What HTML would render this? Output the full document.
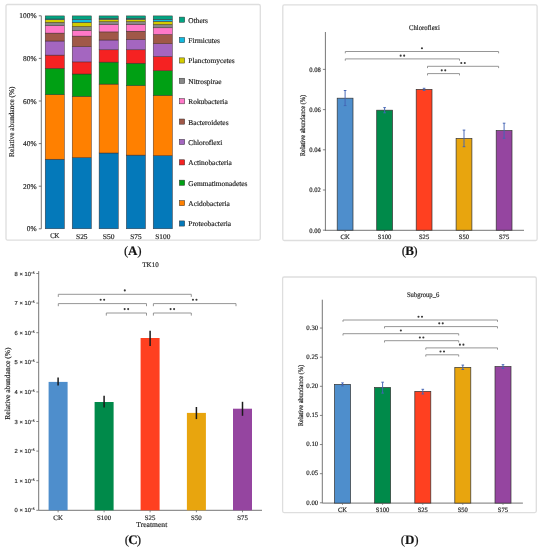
<!DOCTYPE html>
<html><head><meta charset="utf-8"><title>Figure</title>
<style>html,body{margin:0;padding:0;background:#fff;}svg{display:block;will-change:transform;}text{text-rendering:geometricPrecision;stroke:#2a2a2a;stroke-width:0.18px;}</style>
</head><body>
<svg width="542" height="550" viewBox="0 0 542 550" font-family='"Liberation Serif", serif'>
<rect width="542" height="550" fill="#fff"/>
<rect x="6.0" y="4.5" width="254.3" height="235.6" rx="1.5" fill="none" stroke="#dedede" stroke-width="1.3"/>
<line x1="41.3" y1="15.8" x2="41.3" y2="228.8" stroke="#666" stroke-width="0.9"/>
<line x1="38.8" y1="228.8" x2="41.3" y2="228.8" stroke="#666" stroke-width="0.9"/>
<text x="36.6" y="231.4" font-size="7.4" text-anchor="end" font-family='"Liberation Serif", serif' fill="#222" >0%</text>
<line x1="38.8" y1="186.20000000000002" x2="41.3" y2="186.20000000000002" stroke="#666" stroke-width="0.9"/>
<text x="36.6" y="188.8" font-size="7.4" text-anchor="end" font-family='"Liberation Serif", serif' fill="#222" >20%</text>
<line x1="38.8" y1="143.60000000000002" x2="41.3" y2="143.60000000000002" stroke="#666" stroke-width="0.9"/>
<text x="36.6" y="146.20000000000002" font-size="7.4" text-anchor="end" font-family='"Liberation Serif", serif' fill="#222" >40%</text>
<line x1="38.8" y1="101.00000000000001" x2="41.3" y2="101.00000000000001" stroke="#666" stroke-width="0.9"/>
<text x="36.6" y="103.60000000000001" font-size="7.4" text-anchor="end" font-family='"Liberation Serif", serif' fill="#222" >60%</text>
<line x1="38.8" y1="58.400000000000006" x2="41.3" y2="58.400000000000006" stroke="#666" stroke-width="0.9"/>
<text x="36.6" y="61.00000000000001" font-size="7.4" text-anchor="end" font-family='"Liberation Serif", serif' fill="#222" >80%</text>
<line x1="38.8" y1="15.800000000000011" x2="41.3" y2="15.800000000000011" stroke="#666" stroke-width="0.9"/>
<text x="36.6" y="18.400000000000013" font-size="7.4" text-anchor="end" font-family='"Liberation Serif", serif' fill="#222" >100%</text>
<rect x="45.20" y="159.20" width="19.20" height="69.60" fill="#0479ba" stroke="#3a2a2a" stroke-width="0.45"/>
<rect x="45.20" y="94.70" width="19.20" height="64.50" fill="#ff8000" stroke="#3a2a2a" stroke-width="0.45"/>
<rect x="45.20" y="68.30" width="19.20" height="26.40" fill="#00a014" stroke="#3a2a2a" stroke-width="0.45"/>
<rect x="45.20" y="55.10" width="19.20" height="13.20" fill="#f52222" stroke="#3a2a2a" stroke-width="0.45"/>
<rect x="45.20" y="41.00" width="19.20" height="14.10" fill="#a466c0" stroke="#3a2a2a" stroke-width="0.45"/>
<rect x="45.20" y="33.10" width="19.20" height="7.90" fill="#a05848" stroke="#3a2a2a" stroke-width="0.45"/>
<rect x="45.20" y="25.70" width="19.20" height="7.40" fill="#ff78c8" stroke="#3a2a2a" stroke-width="0.45"/>
<rect x="45.20" y="22.40" width="19.20" height="3.30" fill="#888888" stroke="#3a2a2a" stroke-width="0.45"/>
<rect x="45.20" y="19.60" width="19.20" height="2.80" fill="#d4cc00" stroke="#3a2a2a" stroke-width="0.45"/>
<rect x="45.20" y="19.00" width="19.20" height="0.60" fill="#12b9de" stroke="#3a2a2a" stroke-width="0.45"/>
<rect x="45.20" y="15.90" width="19.20" height="3.10" fill="#02a483" stroke="#3a2a2a" stroke-width="0.45"/>
<text x="54.800000000000004" y="237.9" font-size="7.2" text-anchor="middle" font-family='"Liberation Serif", serif' fill="#222" textLength="9.3" lengthAdjust="spacingAndGlyphs">CK</text>
<rect x="72.20" y="157.60" width="19.20" height="71.20" fill="#0479ba" stroke="#3a2a2a" stroke-width="0.45"/>
<rect x="72.20" y="96.50" width="19.20" height="61.10" fill="#ff8000" stroke="#3a2a2a" stroke-width="0.45"/>
<rect x="72.20" y="74.00" width="19.20" height="22.50" fill="#00a014" stroke="#3a2a2a" stroke-width="0.45"/>
<rect x="72.20" y="61.90" width="19.20" height="12.10" fill="#f52222" stroke="#3a2a2a" stroke-width="0.45"/>
<rect x="72.20" y="46.70" width="19.20" height="15.20" fill="#a466c0" stroke="#3a2a2a" stroke-width="0.45"/>
<rect x="72.20" y="36.10" width="19.20" height="10.60" fill="#a05848" stroke="#3a2a2a" stroke-width="0.45"/>
<rect x="72.20" y="30.50" width="19.20" height="5.60" fill="#ff78c8" stroke="#3a2a2a" stroke-width="0.45"/>
<rect x="72.20" y="26.50" width="19.20" height="4.00" fill="#888888" stroke="#3a2a2a" stroke-width="0.45"/>
<rect x="72.20" y="22.40" width="19.20" height="4.10" fill="#d4cc00" stroke="#3a2a2a" stroke-width="0.45"/>
<rect x="72.20" y="19.50" width="19.20" height="2.90" fill="#12b9de" stroke="#3a2a2a" stroke-width="0.45"/>
<rect x="72.20" y="15.90" width="19.20" height="3.60" fill="#02a483" stroke="#3a2a2a" stroke-width="0.45"/>
<text x="81.8" y="238.7" font-size="7.2" text-anchor="middle" font-family='"Liberation Serif", serif' fill="#222" textLength="11.6" lengthAdjust="spacingAndGlyphs">S25</text>
<rect x="99.10" y="153.00" width="19.20" height="75.80" fill="#0479ba" stroke="#3a2a2a" stroke-width="0.45"/>
<rect x="99.10" y="84.10" width="19.20" height="68.90" fill="#ff8000" stroke="#3a2a2a" stroke-width="0.45"/>
<rect x="99.10" y="62.10" width="19.20" height="22.00" fill="#00a014" stroke="#3a2a2a" stroke-width="0.45"/>
<rect x="99.10" y="49.80" width="19.20" height="12.30" fill="#f52222" stroke="#3a2a2a" stroke-width="0.45"/>
<rect x="99.10" y="40.00" width="19.20" height="9.80" fill="#a466c0" stroke="#3a2a2a" stroke-width="0.45"/>
<rect x="99.10" y="31.90" width="19.20" height="8.10" fill="#a05848" stroke="#3a2a2a" stroke-width="0.45"/>
<rect x="99.10" y="24.50" width="19.20" height="7.40" fill="#ff78c8" stroke="#3a2a2a" stroke-width="0.45"/>
<rect x="99.10" y="21.70" width="19.20" height="2.80" fill="#888888" stroke="#3a2a2a" stroke-width="0.45"/>
<rect x="99.10" y="19.30" width="19.20" height="2.40" fill="#d4cc00" stroke="#3a2a2a" stroke-width="0.45"/>
<rect x="99.10" y="18.30" width="19.20" height="1.00" fill="#12b9de" stroke="#3a2a2a" stroke-width="0.45"/>
<rect x="99.10" y="15.90" width="19.20" height="2.40" fill="#02a483" stroke="#3a2a2a" stroke-width="0.45"/>
<text x="108.69999999999999" y="238.7" font-size="7.2" text-anchor="middle" font-family='"Liberation Serif", serif' fill="#222" textLength="11.8" lengthAdjust="spacingAndGlyphs">S50</text>
<rect x="126.30" y="155.10" width="19.20" height="73.70" fill="#0479ba" stroke="#3a2a2a" stroke-width="0.45"/>
<rect x="126.30" y="85.60" width="19.20" height="69.50" fill="#ff8000" stroke="#3a2a2a" stroke-width="0.45"/>
<rect x="126.30" y="63.20" width="19.20" height="22.40" fill="#00a014" stroke="#3a2a2a" stroke-width="0.45"/>
<rect x="126.30" y="49.80" width="19.20" height="13.40" fill="#f52222" stroke="#3a2a2a" stroke-width="0.45"/>
<rect x="126.30" y="39.40" width="19.20" height="10.40" fill="#a466c0" stroke="#3a2a2a" stroke-width="0.45"/>
<rect x="126.30" y="31.20" width="19.20" height="8.20" fill="#a05848" stroke="#3a2a2a" stroke-width="0.45"/>
<rect x="126.30" y="24.30" width="19.20" height="6.90" fill="#ff78c8" stroke="#3a2a2a" stroke-width="0.45"/>
<rect x="126.30" y="21.60" width="19.20" height="2.70" fill="#888888" stroke="#3a2a2a" stroke-width="0.45"/>
<rect x="126.30" y="19.30" width="19.20" height="2.30" fill="#d4cc00" stroke="#3a2a2a" stroke-width="0.45"/>
<rect x="126.30" y="18.30" width="19.20" height="1.00" fill="#12b9de" stroke="#3a2a2a" stroke-width="0.45"/>
<rect x="126.30" y="15.90" width="19.20" height="2.40" fill="#02a483" stroke="#3a2a2a" stroke-width="0.45"/>
<text x="135.9" y="238.7" font-size="7.2" text-anchor="middle" font-family='"Liberation Serif", serif' fill="#222" textLength="11.3" lengthAdjust="spacingAndGlyphs">S75</text>
<rect x="153.20" y="155.60" width="19.20" height="73.20" fill="#0479ba" stroke="#3a2a2a" stroke-width="0.45"/>
<rect x="153.20" y="95.50" width="19.20" height="60.10" fill="#ff8000" stroke="#3a2a2a" stroke-width="0.45"/>
<rect x="153.20" y="70.70" width="19.20" height="24.80" fill="#00a014" stroke="#3a2a2a" stroke-width="0.45"/>
<rect x="153.20" y="56.50" width="19.20" height="14.20" fill="#f52222" stroke="#3a2a2a" stroke-width="0.45"/>
<rect x="153.20" y="43.70" width="19.20" height="12.80" fill="#a466c0" stroke="#3a2a2a" stroke-width="0.45"/>
<rect x="153.20" y="34.50" width="19.20" height="9.20" fill="#a05848" stroke="#3a2a2a" stroke-width="0.45"/>
<rect x="153.20" y="27.80" width="19.20" height="6.70" fill="#ff78c8" stroke="#3a2a2a" stroke-width="0.45"/>
<rect x="153.20" y="24.50" width="19.20" height="3.30" fill="#888888" stroke="#3a2a2a" stroke-width="0.45"/>
<rect x="153.20" y="21.40" width="19.20" height="3.10" fill="#d4cc00" stroke="#3a2a2a" stroke-width="0.45"/>
<rect x="153.20" y="19.30" width="19.20" height="2.10" fill="#12b9de" stroke="#3a2a2a" stroke-width="0.45"/>
<rect x="153.20" y="15.90" width="19.20" height="3.40" fill="#02a483" stroke="#3a2a2a" stroke-width="0.45"/>
<text x="162.79999999999998" y="238.7" font-size="7.2" text-anchor="middle" font-family='"Liberation Serif", serif' fill="#222" textLength="15.2" lengthAdjust="spacingAndGlyphs">S100</text>
<rect x="179.30" y="17.10" width="5.40" height="5.20" fill="#02a483" stroke="#333" stroke-width="0.5"/>
<text x="188.3" y="22.599999999999998" font-size="7.4" text-anchor="start" font-family='"Liberation Serif", serif' fill="#222" >Others</text>
<rect x="179.30" y="37.48" width="5.40" height="5.20" fill="#12b9de" stroke="#333" stroke-width="0.5"/>
<text x="188.3" y="42.98" font-size="7.4" text-anchor="start" font-family='"Liberation Serif", serif' fill="#222" >Firmicutes</text>
<rect x="179.30" y="57.86" width="5.40" height="5.20" fill="#d4cc00" stroke="#333" stroke-width="0.5"/>
<text x="188.3" y="63.35999999999999" font-size="7.4" text-anchor="start" font-family='"Liberation Serif", serif' fill="#222" >Planctomycetes</text>
<rect x="179.30" y="78.24" width="5.40" height="5.20" fill="#888888" stroke="#333" stroke-width="0.5"/>
<text x="188.3" y="83.74000000000001" font-size="7.4" text-anchor="start" font-family='"Liberation Serif", serif' fill="#222" >Nitrospirae</text>
<rect x="179.30" y="98.62" width="5.40" height="5.20" fill="#ff78c8" stroke="#333" stroke-width="0.5"/>
<text x="188.3" y="104.12" font-size="7.4" text-anchor="start" font-family='"Liberation Serif", serif' fill="#222" >Rokubacteria</text>
<rect x="179.30" y="119.00" width="5.40" height="5.20" fill="#a05848" stroke="#333" stroke-width="0.5"/>
<text x="188.3" y="124.5" font-size="7.4" text-anchor="start" font-family='"Liberation Serif", serif' fill="#222" >Bacteroidetes</text>
<rect x="179.30" y="139.38" width="5.40" height="5.20" fill="#a466c0" stroke="#333" stroke-width="0.5"/>
<text x="188.3" y="144.88" font-size="7.4" text-anchor="start" font-family='"Liberation Serif", serif' fill="#222" >Chloroflexi</text>
<rect x="179.30" y="159.76" width="5.40" height="5.20" fill="#f52222" stroke="#333" stroke-width="0.5"/>
<text x="188.3" y="165.26" font-size="7.4" text-anchor="start" font-family='"Liberation Serif", serif' fill="#222" >Actinobacteria</text>
<rect x="179.30" y="180.14" width="5.40" height="5.20" fill="#00a014" stroke="#333" stroke-width="0.5"/>
<text x="188.3" y="185.64" font-size="7.4" text-anchor="start" font-family='"Liberation Serif", serif' fill="#222" >Gemmatimonadetes</text>
<rect x="179.30" y="200.52" width="5.40" height="5.20" fill="#ff8000" stroke="#333" stroke-width="0.5"/>
<text x="188.3" y="206.01999999999998" font-size="7.4" text-anchor="start" font-family='"Liberation Serif", serif' fill="#222" >Acidobacteria</text>
<rect x="179.30" y="220.90" width="5.40" height="5.20" fill="#0479ba" stroke="#333" stroke-width="0.5"/>
<text x="188.3" y="226.39999999999998" font-size="7.4" text-anchor="start" font-family='"Liberation Serif", serif' fill="#222" >Proteobacteria</text>
<text transform="translate(13.7,121.7) rotate(-90)" font-size="7.35" text-anchor="middle" font-family='"Liberation Serif", serif' fill="#222">Relative abundance (%)</text>
<rect x="282.8" y="4.9" width="254.3" height="235.6" rx="1.5" fill="none" stroke="#dedede" stroke-width="1.3"/>
<line x1="325.4" y1="32" x2="325.4" y2="230.6" stroke="#666" stroke-width="0.9"/>
<line x1="325.0" y1="230.3" x2="524" y2="230.3" stroke="#666" stroke-width="0.9"/>
<line x1="322.9" y1="230.2" x2="325.4" y2="230.2" stroke="#666" stroke-width="0.8"/>
<text x="320.8" y="232.5" font-size="6.6" text-anchor="end" font-family='"Liberation Serif", serif' fill="#222" >0.00</text>
<line x1="322.9" y1="190.0" x2="325.4" y2="190.0" stroke="#666" stroke-width="0.8"/>
<text x="320.8" y="192.3" font-size="6.6" text-anchor="end" font-family='"Liberation Serif", serif' fill="#222" >0.02</text>
<line x1="322.9" y1="149.79999999999998" x2="325.4" y2="149.79999999999998" stroke="#666" stroke-width="0.8"/>
<text x="320.8" y="152.1" font-size="6.6" text-anchor="end" font-family='"Liberation Serif", serif' fill="#222" >0.04</text>
<line x1="322.9" y1="109.6" x2="325.4" y2="109.6" stroke="#666" stroke-width="0.8"/>
<text x="320.8" y="111.89999999999999" font-size="6.6" text-anchor="end" font-family='"Liberation Serif", serif' fill="#222" >0.06</text>
<line x1="322.9" y1="69.39999999999998" x2="325.4" y2="69.39999999999998" stroke="#666" stroke-width="0.8"/>
<text x="320.8" y="71.69999999999997" font-size="6.6" text-anchor="end" font-family='"Liberation Serif", serif' fill="#222" >0.08</text>
<rect x="337.20" y="98.20" width="15.80" height="132.00" fill="#4e8ecc" stroke="#333" stroke-width="0.7"/>
<line x1="345.09999999999997" y1="230.3" x2="345.09999999999997" y2="232.0" stroke="#666" stroke-width="0.8"/>
<path d="M343.79999999999995 90.5H346.4M345.09999999999997 90.5V105.6M343.79999999999995 105.6H346.4" stroke="#4364b4" stroke-width="0.95" fill="none"/>
<text x="345.09999999999997" y="239.0" font-size="6.6" text-anchor="middle" font-family='"Liberation Serif", serif' fill="#222" >CK</text>
<rect x="376.70" y="110.20" width="15.80" height="120.00" fill="#008a4a" stroke="#333" stroke-width="0.7"/>
<line x1="384.59999999999997" y1="230.3" x2="384.59999999999997" y2="232.0" stroke="#666" stroke-width="0.8"/>
<path d="M383.29999999999995 107.6H385.9M384.59999999999997 107.6V112.8M383.29999999999995 112.8H385.9" stroke="#4364b4" stroke-width="0.95" fill="none"/>
<text x="384.59999999999997" y="239.0" font-size="6.6" text-anchor="middle" font-family='"Liberation Serif", serif' fill="#222" >S100</text>
<rect x="416.20" y="89.40" width="15.80" height="140.80" fill="#ff4020" stroke="#333" stroke-width="0.7"/>
<line x1="424.09999999999997" y1="230.3" x2="424.09999999999997" y2="232.0" stroke="#666" stroke-width="0.8"/>
<path d="M422.79999999999995 88.3H425.4M424.09999999999997 88.3V90.5M422.79999999999995 90.5H425.4" stroke="#4364b4" stroke-width="0.95" fill="none"/>
<text x="424.09999999999997" y="239.0" font-size="6.6" text-anchor="middle" font-family='"Liberation Serif", serif' fill="#222" >S25</text>
<rect x="456.10" y="138.50" width="15.80" height="91.70" fill="#e8a50e" stroke="#333" stroke-width="0.7"/>
<line x1="464.0" y1="230.3" x2="464.0" y2="232.0" stroke="#666" stroke-width="0.8"/>
<path d="M462.7 130.1H465.3M464.0 130.1V146.7M462.7 146.7H465.3" stroke="#4364b4" stroke-width="0.95" fill="none"/>
<text x="464.0" y="239.0" font-size="6.6" text-anchor="middle" font-family='"Liberation Serif", serif' fill="#222" >S50</text>
<rect x="496.20" y="130.60" width="15.80" height="99.60" fill="#9545a0" stroke="#333" stroke-width="0.7"/>
<line x1="504.09999999999997" y1="230.3" x2="504.09999999999997" y2="232.0" stroke="#666" stroke-width="0.8"/>
<path d="M502.79999999999995 123.2H505.4M504.09999999999997 123.2V138.3M502.79999999999995 138.3H505.4" stroke="#4364b4" stroke-width="0.95" fill="none"/>
<text x="504.09999999999997" y="239.0" font-size="6.6" text-anchor="middle" font-family='"Liberation Serif", serif' fill="#222" >S75</text>
<text x="424.45" y="29.8" font-size="7.2" text-anchor="middle" font-family='"Liberation Serif", serif' fill="#222" textLength="30.7" lengthAdjust="spacingAndGlyphs">Chloroflexi</text>
<path d="M345.3 53.3V51.5H498.6V53.3" fill="none" stroke="#8a8a8a" stroke-width="0.9"/>
<circle cx="421.95" cy="48.25" r="1.05" fill="#3a3a3a"/>
<path d="M345.3 60.699999999999996V58.9H459.5V60.699999999999996" fill="none" stroke="#8a8a8a" stroke-width="0.9"/>
<circle cx="400.65" cy="55.65" r="1.05" fill="#3a3a3a"/>
<circle cx="404.15" cy="55.65" r="1.05" fill="#3a3a3a"/>
<path d="M427.5 68.1V66.3H498.6V68.1" fill="none" stroke="#8a8a8a" stroke-width="0.9"/>
<circle cx="461.30" cy="63.05" r="1.05" fill="#3a3a3a"/>
<circle cx="464.80" cy="63.05" r="1.05" fill="#3a3a3a"/>
<path d="M427.5 75.39999999999999V73.6H459.5V75.39999999999999" fill="none" stroke="#8a8a8a" stroke-width="0.9"/>
<circle cx="441.75" cy="70.35" r="1.05" fill="#3a3a3a"/>
<circle cx="445.25" cy="70.35" r="1.05" fill="#3a3a3a"/>
<text transform="translate(305.3,125.5) rotate(-90) scale(1,1.12)" font-size="6.4" text-anchor="middle" font-family='"Liberation Serif", serif' fill="#222">Relative abundance (%)</text>
<line x1="38.7" y1="271.1" x2="38.7" y2="510.3" stroke="#666" stroke-width="0.9"/>
<line x1="38.7" y1="510.3" x2="262" y2="510.3" stroke="#666" stroke-width="0.9"/>
<line x1="36.3" y1="510.3" x2="38.7" y2="510.3" stroke="#666" stroke-width="0.8"/>
<text x="34.5" y="512.3" font-size="5.8" text-anchor="end" font-family='"Liberation Sans", sans-serif' fill="#333">0 × 10<tspan font-size="3.2" dy="-1.9">−5</tspan></text>
<line x1="36.3" y1="480.7" x2="38.7" y2="480.7" stroke="#666" stroke-width="0.8"/>
<text x="34.5" y="482.7" font-size="5.8" text-anchor="end" font-family='"Liberation Sans", sans-serif' fill="#333">1 × 10<tspan font-size="3.2" dy="-1.9">−5</tspan></text>
<line x1="36.3" y1="451.1" x2="38.7" y2="451.1" stroke="#666" stroke-width="0.8"/>
<text x="34.5" y="453.1" font-size="5.8" text-anchor="end" font-family='"Liberation Sans", sans-serif' fill="#333">2 × 10<tspan font-size="3.2" dy="-1.9">−5</tspan></text>
<line x1="36.3" y1="421.5" x2="38.7" y2="421.5" stroke="#666" stroke-width="0.8"/>
<text x="34.5" y="423.5" font-size="5.8" text-anchor="end" font-family='"Liberation Sans", sans-serif' fill="#333">3 × 10<tspan font-size="3.2" dy="-1.9">−5</tspan></text>
<line x1="36.3" y1="391.9" x2="38.7" y2="391.9" stroke="#666" stroke-width="0.8"/>
<text x="34.5" y="393.9" font-size="5.8" text-anchor="end" font-family='"Liberation Sans", sans-serif' fill="#333">4 × 10<tspan font-size="3.2" dy="-1.9">−5</tspan></text>
<line x1="36.3" y1="362.3" x2="38.7" y2="362.3" stroke="#666" stroke-width="0.8"/>
<text x="34.5" y="364.3" font-size="5.8" text-anchor="end" font-family='"Liberation Sans", sans-serif' fill="#333">5 × 10<tspan font-size="3.2" dy="-1.9">−5</tspan></text>
<line x1="36.3" y1="332.7" x2="38.7" y2="332.7" stroke="#666" stroke-width="0.8"/>
<text x="34.5" y="334.7" font-size="5.8" text-anchor="end" font-family='"Liberation Sans", sans-serif' fill="#333">6 × 10<tspan font-size="3.2" dy="-1.9">−5</tspan></text>
<line x1="36.3" y1="303.1" x2="38.7" y2="303.1" stroke="#666" stroke-width="0.8"/>
<text x="34.5" y="305.1" font-size="5.8" text-anchor="end" font-family='"Liberation Sans", sans-serif' fill="#333">7 × 10<tspan font-size="3.2" dy="-1.9">−5</tspan></text>
<line x1="36.3" y1="273.5" x2="38.7" y2="273.5" stroke="#666" stroke-width="0.8"/>
<text x="34.5" y="275.5" font-size="5.8" text-anchor="end" font-family='"Liberation Sans", sans-serif' fill="#333">8 × 10<tspan font-size="3.2" dy="-1.9">−5</tspan></text>
<rect x="48.60" y="381.90" width="19.00" height="128.40" fill="#4e8ecc"/>
<line x1="58.1" y1="377.6" x2="58.1" y2="385.5" stroke="#1a1a1a" stroke-width="1.5"/>
<line x1="58.1" y1="510.3" x2="58.1" y2="512.3" stroke="#666" stroke-width="0.8"/>
<text x="58.1" y="519.8" font-size="6.8" text-anchor="middle" font-family='"Liberation Serif", serif' fill="#222" >CK</text>
<rect x="94.60" y="402.00" width="19.00" height="108.30" fill="#008a4a"/>
<line x1="104.1" y1="395.7" x2="104.1" y2="407.6" stroke="#1a1a1a" stroke-width="1.5"/>
<line x1="104.1" y1="510.3" x2="104.1" y2="512.3" stroke="#666" stroke-width="0.8"/>
<text x="104.1" y="519.8" font-size="6.8" text-anchor="middle" font-family='"Liberation Serif", serif' fill="#222" >S100</text>
<rect x="140.60" y="338.00" width="19.00" height="172.30" fill="#ff4020"/>
<line x1="150.1" y1="330.8" x2="150.1" y2="345.9" stroke="#1a1a1a" stroke-width="1.5"/>
<line x1="150.1" y1="510.3" x2="150.1" y2="512.3" stroke="#666" stroke-width="0.8"/>
<text x="150.1" y="519.8" font-size="6.8" text-anchor="middle" font-family='"Liberation Serif", serif' fill="#222" >S25</text>
<rect x="186.90" y="412.90" width="19.00" height="97.40" fill="#e8a50e"/>
<line x1="196.4" y1="407.0" x2="196.4" y2="419.1" stroke="#1a1a1a" stroke-width="1.5"/>
<line x1="196.4" y1="510.3" x2="196.4" y2="512.3" stroke="#666" stroke-width="0.8"/>
<text x="196.4" y="519.8" font-size="6.8" text-anchor="middle" font-family='"Liberation Serif", serif' fill="#222" >S50</text>
<rect x="233.00" y="408.70" width="19.00" height="101.60" fill="#9545a0"/>
<line x1="242.5" y1="401.8" x2="242.5" y2="415.8" stroke="#1a1a1a" stroke-width="1.5"/>
<line x1="242.5" y1="510.3" x2="242.5" y2="512.3" stroke="#666" stroke-width="0.8"/>
<text x="242.5" y="519.8" font-size="6.8" text-anchor="middle" font-family='"Liberation Serif", serif' fill="#222" >S75</text>
<text x="150.5" y="267" font-size="7" text-anchor="middle" font-family='"Liberation Serif", serif' fill="#222" >TK10</text>
<text x="151.8" y="526.8" font-size="7.6" text-anchor="middle" font-family='"Liberation Serif", serif' fill="#222" >Treatment</text>
<path d="M58.3 296.90000000000003V294.3H191.3V296.90000000000003" fill="none" stroke="#8a8a8a" stroke-width="0.9"/>
<circle cx="124.80" cy="290.40" r="1.05" fill="#3a3a3a"/>
<path d="M58.3 306.20000000000005V303.6H146.5V306.20000000000005" fill="none" stroke="#8a8a8a" stroke-width="0.9"/>
<circle cx="100.65" cy="299.70" r="1.05" fill="#3a3a3a"/>
<circle cx="104.15" cy="299.70" r="1.05" fill="#3a3a3a"/>
<path d="M153.4 306.20000000000005V303.6H236V306.20000000000005" fill="none" stroke="#8a8a8a" stroke-width="0.9"/>
<circle cx="192.95" cy="299.70" r="1.05" fill="#3a3a3a"/>
<circle cx="196.45" cy="299.70" r="1.05" fill="#3a3a3a"/>
<path d="M106.3 315.6V313H146.5V315.6" fill="none" stroke="#8a8a8a" stroke-width="0.9"/>
<circle cx="124.65" cy="309.10" r="1.05" fill="#3a3a3a"/>
<circle cx="128.15" cy="309.10" r="1.05" fill="#3a3a3a"/>
<path d="M153.4 315.6V313H191.3V315.6" fill="none" stroke="#8a8a8a" stroke-width="0.9"/>
<circle cx="170.60" cy="309.10" r="1.05" fill="#3a3a3a"/>
<circle cx="174.10" cy="309.10" r="1.05" fill="#3a3a3a"/>
<text transform="translate(9.7,383.6) rotate(-90)" font-size="7.5" text-anchor="middle" font-family='"Liberation Serif", serif' fill="#222">Relative abundance (%)</text>
<rect x="282.6" y="277.0" width="253.69999999999993" height="235.60000000000002" rx="1.5" fill="none" stroke="#dedede" stroke-width="1.3"/>
<line x1="322.3" y1="299.7" x2="322.3" y2="503.1" stroke="#666" stroke-width="0.9"/>
<line x1="322.3" y1="503.1" x2="522.9" y2="503.1" stroke="#666" stroke-width="0.9"/>
<line x1="319.9" y1="502.8" x2="322.3" y2="502.8" stroke="#666" stroke-width="0.8"/>
<text x="318.2" y="504.6" font-size="6.8" text-anchor="end" font-family='"Liberation Serif", serif' fill="#222" >0.00</text>
<line x1="319.9" y1="473.675" x2="322.3" y2="473.675" stroke="#666" stroke-width="0.8"/>
<text x="318.2" y="475.475" font-size="6.8" text-anchor="end" font-family='"Liberation Serif", serif' fill="#222" >0.05</text>
<line x1="319.9" y1="444.55" x2="322.3" y2="444.55" stroke="#666" stroke-width="0.8"/>
<text x="318.2" y="446.35" font-size="6.8" text-anchor="end" font-family='"Liberation Serif", serif' fill="#222" >0.10</text>
<line x1="319.9" y1="415.425" x2="322.3" y2="415.425" stroke="#666" stroke-width="0.8"/>
<text x="318.2" y="417.225" font-size="6.8" text-anchor="end" font-family='"Liberation Serif", serif' fill="#222" >0.15</text>
<line x1="319.9" y1="386.3" x2="322.3" y2="386.3" stroke="#666" stroke-width="0.8"/>
<text x="318.2" y="388.1" font-size="6.8" text-anchor="end" font-family='"Liberation Serif", serif' fill="#222" >0.20</text>
<line x1="319.9" y1="357.175" x2="322.3" y2="357.175" stroke="#666" stroke-width="0.8"/>
<text x="318.2" y="358.975" font-size="6.8" text-anchor="end" font-family='"Liberation Serif", serif' fill="#222" >0.25</text>
<line x1="319.9" y1="328.05" x2="322.3" y2="328.05" stroke="#666" stroke-width="0.8"/>
<text x="318.2" y="329.85" font-size="6.8" text-anchor="end" font-family='"Liberation Serif", serif' fill="#222" >0.30</text>
<rect x="334.50" y="384.40" width="16.00" height="118.70" fill="#4e8ecc" stroke="#333" stroke-width="0.7"/>
<line x1="342.5" y1="503.1" x2="342.5" y2="504.8" stroke="#666" stroke-width="0.8"/>
<path d="M341.2 382.9H343.8M342.5 382.9V385.9M341.2 385.9H343.8" stroke="#4364b4" stroke-width="0.95" fill="none"/>
<text x="342.5" y="512.2" font-size="6.6" text-anchor="middle" font-family='"Liberation Serif", serif' fill="#222" >CK</text>
<rect x="374.60" y="387.50" width="16.00" height="115.60" fill="#008a4a" stroke="#333" stroke-width="0.7"/>
<line x1="382.6" y1="503.1" x2="382.6" y2="504.8" stroke="#666" stroke-width="0.8"/>
<path d="M381.3 382.2H383.90000000000003M382.6 382.2V393.1M381.3 393.1H383.90000000000003" stroke="#4364b4" stroke-width="0.95" fill="none"/>
<text x="382.6" y="512.2" font-size="6.6" text-anchor="middle" font-family='"Liberation Serif", serif' fill="#222" >S100</text>
<rect x="414.80" y="391.40" width="16.00" height="111.70" fill="#ff4020" stroke="#333" stroke-width="0.7"/>
<line x1="422.8" y1="503.1" x2="422.8" y2="504.8" stroke="#666" stroke-width="0.8"/>
<path d="M421.5 389.3H424.1M422.8 389.3V394.0M421.5 394.0H424.1" stroke="#4364b4" stroke-width="0.95" fill="none"/>
<text x="422.8" y="512.2" font-size="6.6" text-anchor="middle" font-family='"Liberation Serif", serif' fill="#222" >S25</text>
<rect x="454.80" y="367.40" width="16.00" height="135.70" fill="#e8a50e" stroke="#333" stroke-width="0.7"/>
<line x1="462.8" y1="503.1" x2="462.8" y2="504.8" stroke="#666" stroke-width="0.8"/>
<path d="M461.5 365.1H464.1M462.8 365.1V369.5M461.5 369.5H464.1" stroke="#4364b4" stroke-width="0.95" fill="none"/>
<text x="462.8" y="512.2" font-size="6.6" text-anchor="middle" font-family='"Liberation Serif", serif' fill="#222" >S50</text>
<rect x="495.00" y="366.60" width="16.00" height="136.50" fill="#9545a0" stroke="#333" stroke-width="0.7"/>
<line x1="503.0" y1="503.1" x2="503.0" y2="504.8" stroke="#666" stroke-width="0.8"/>
<path d="M501.7 364.7H504.3M503.0 364.7V368.5M501.7 368.5H504.3" stroke="#4364b4" stroke-width="0.95" fill="none"/>
<text x="503.0" y="512.2" font-size="6.6" text-anchor="middle" font-family='"Liberation Serif", serif' fill="#222" >S75</text>
<text x="423.1" y="297.2" font-size="7.2" text-anchor="middle" font-family='"Liberation Serif", serif' fill="#222" textLength="32.4" lengthAdjust="spacingAndGlyphs">Subgroup_6</text>
<path d="M343 321.8V320H497.5V321.8" fill="none" stroke="#8a8a8a" stroke-width="0.9"/>
<circle cx="418.50" cy="316.75" r="1.05" fill="#3a3a3a"/>
<circle cx="422.00" cy="316.75" r="1.05" fill="#3a3a3a"/>
<path d="M384.5 328.40000000000003V326.6H497.5V328.40000000000003" fill="none" stroke="#8a8a8a" stroke-width="0.9"/>
<circle cx="439.25" cy="323.35" r="1.05" fill="#3a3a3a"/>
<circle cx="442.75" cy="323.35" r="1.05" fill="#3a3a3a"/>
<path d="M343 335.5V333.7H458.7V335.5" fill="none" stroke="#8a8a8a" stroke-width="0.9"/>
<circle cx="400.85" cy="330.45" r="1.05" fill="#3a3a3a"/>
<path d="M384.5 342.5V340.7H458.7V342.5" fill="none" stroke="#8a8a8a" stroke-width="0.9"/>
<circle cx="419.85" cy="337.45" r="1.05" fill="#3a3a3a"/>
<circle cx="423.35" cy="337.45" r="1.05" fill="#3a3a3a"/>
<path d="M425.8 349.7V347.9H497.5V349.7" fill="none" stroke="#8a8a8a" stroke-width="0.9"/>
<circle cx="459.90" cy="344.65" r="1.05" fill="#3a3a3a"/>
<circle cx="463.40" cy="344.65" r="1.05" fill="#3a3a3a"/>
<path d="M425.8 356.6V354.8H458.7V356.6" fill="none" stroke="#8a8a8a" stroke-width="0.9"/>
<circle cx="440.50" cy="351.55" r="1.05" fill="#3a3a3a"/>
<circle cx="444.00" cy="351.55" r="1.05" fill="#3a3a3a"/>
<text transform="translate(302.6,395.5) rotate(-90) scale(1,1.12)" font-size="6.4" text-anchor="middle" font-family='"Liberation Serif", serif' fill="#222">Relative abundance (%)</text>
<text x="124.05000000000001" y="254.6" font-size="13" textLength="17.5" lengthAdjust="spacing" font-family='"Liberation Serif", serif' fill="#111">(<tspan font-weight="bold">A</tspan>)</text>
<text x="401.70000000000005" y="254.6" font-size="13" textLength="15.8" lengthAdjust="spacing" font-family='"Liberation Serif", serif' fill="#111">(<tspan font-weight="bold">B</tspan>)</text>
<text x="124.7" y="543.9" font-size="13" textLength="16.4" lengthAdjust="spacing" font-family='"Liberation Serif", serif' fill="#111">(<tspan font-weight="bold">C</tspan>)</text>
<text x="400.70000000000005" y="543.9" font-size="13" textLength="17.8" lengthAdjust="spacing" font-family='"Liberation Serif", serif' fill="#111">(<tspan font-weight="bold">D</tspan>)</text>
</svg>
</body></html>
